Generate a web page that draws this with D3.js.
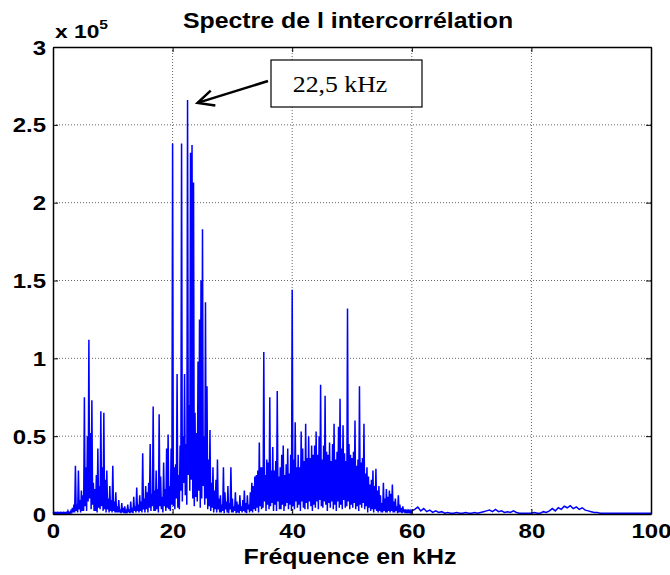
<!DOCTYPE html>
<html><head><meta charset="utf-8">
<script src="https://cdn.jsdelivr.net/npm/d3@7"></script>
<style>body{margin:0;background:#fff}svg{display:block}</style>
</head><body>
<svg id="c" width="670" height="575"></svg>
<script>
// spectrum amplitude in units of 1e4, 0 .. 60 kHz
// local maxima, one every 0.25 kHz (starting at 0)
const peakStart = 0, peakStep = 0.25;
const peakAmp = [
 0.1,0.1,0.1,0.1, 0.1,0.1,0.1,0.1, 0.1,0.1,0.2,0.1, 0.2,0.4,0.6,3.1,
 0.6,2.8,0.9,1.5, 1.2,7.5,3.0,5.0, 11.2,5.2,7.3,2.0, 1.6,2.5,4.2,1.8,
 6.6,3.0,6.5,2.2, 2.8,1.0,1.8,0.9, 3.1,0.8,1.4,0.5, 0.9,0.3,0.7,0.4,
 0.5,0.2,0.6,0.3, 0.8,0.4,1.1,0.5, 1.7,0.6,1.2,0.8, 3.9,1.0,1.8,1.4,
 2.0,4.5,1.3,6.9, 1.5,2.8,1.6,6.4, 2.4,1.1,3.3,1.6, 4.2,5.1,1.8,4.2,
 23.8,3.0,3.2,9.0, 2.5,4.4,23.8,5.0, 9.0,4.5,26.6,7.0, 23.2,23.7,21.3,6.5,
 5.2,9.8,12.5,15.0, 18.3,5.0,13.6,8.2, 3.5,5.4,2.0,3.0, 1.5,2.2,3.5,1.0,
 1.2,0.6,3.0,1.4, 0.8,1.8,0.7,3.0, 1.0,0.5,1.4,0.8, 0.6,1.2,0.5,0.9,
 1.5,0.7,1.2,0.6, 1.4,2.0,1.8,2.4, 2.5,2.8,4.6,3.0, 3.0,10.4,2.5,3.5,
 3.3,7.5,2.8,4.3, 2.8,3.4,7.9,2.4, 3.0,3.8,4.4,2.5, 3.2,4.2,2.6,3.8,
 14.4,3.5,5.9,3.0, 3.8,3.0,5.3,4.2, 3.4,5.8,3.6,5.0, 3.6,4.4,3.8,4.4,
 5.3,3.8,5.0,8.3, 3.5,4.4,7.6,4.0, 3.8,4.6,3.4,4.5, 5.8,3.5,4.0,5.6,
 7.4,4.2,5.7,3.9, 3.4,13.2,4.5,3.8, 3.6,4.0,6.0,3.1, 3.5,8.2,3.3,3.6,
 5.8,2.6,3.0,2.4, 1.9,2.2,2.8,1.8, 2.9,1.5,1.8,1.2, 0.7,2.0,1.0,1.6,
 1.1,1.5,1.3,1.9, 0.8,1.0,0.5,1.2, 0.6,0.4,0.5,0.3, 0.3,0.2,0.3,0.2,
 0.2
];
// local minima between them, one every 0.25 kHz (starting at 0.125)
const troughStart = 0.125, troughStep = 0.25;
const troughAmp = [
 0.05,0.05,0.05,0.05, 0.05,0.05,0.05,0.05, 0.05,0.05,0.05,0.05, 0.1,0.1,0.1,0.2,
 0.1,0.3,0.1,0.2, 0.2,0.5,0.2,0.8, 1.0,0.3,0.6,0.2, 0.2,0.1,0.4,0.3,
 0.5,0.2,0.3,0.1, 0.3,0.1,0.2,0.1, 0.2,0.1,0.1,0.1, 0.1,0.05,0.1,0.05,
 0.05,0.05,0.1,0.05, 0.1,0.05,0.2,0.1, 0.2,0.1,0.2,0.1, 0.3,0.1,0.3,0.1,
 0.4,0.2,0.5,0.2, 0.2,0.3,0.1,0.5, 0.3,0.1,0.5,0.2, 0.4,0.3,0.2,0.6,
 0.5,0.3,1.0,0.4, 0.3,1.5,0.8,2.0, 1.2,0.6,2.5,1.5, 2.2,1.0,0.5,1.1,
 0.8,1.5,0.4,1.0, 1.8,0.6,1.0,0.3, 0.5,0.2,0.4,0.1, 0.3,0.1,0.3,0.1,
 0.1,0.2,0.05,0.3, 0.1,0.05,0.3,0.1, 0.1,0.2,0.05,0.1, 0.05,0.2,0.1,0.2,
 0.1,0.05,0.3,0.1, 0.2,0.1,0.3,0.2, 0.4,0.1,0.5,0.3, 0.4,0.8,0.2,0.6,
 0.3,0.5,0.7,0.2, 0.6,0.2,0.8,0.3, 0.3,0.6,0.2,0.5, 0.7,0.3,0.6,0.2,
 0.5,0.3,0.8,0.4, 0.6,0.2,0.8,0.4, 0.3,0.7,0.3,0.8, 0.5,0.2,0.6,0.4,
 0.8,0.3,0.9,0.5, 0.4,0.8,0.6,0.2, 0.7,0.4,0.8,0.3, 0.6,0.2,0.8,0.4,
 0.6,0.3,0.9,0.4, 0.5,0.8,0.3,0.6, 0.4,0.7,0.3,0.5, 0.2,0.6,0.4,0.7,
 0.3,0.5,0.1,0.4, 0.2,0.3,0.1,0.3, 0.2,0.1,0.2,0.1, 0.1,0.2,0.1,0.1,
 0.2,0.1,0.2,0.1, 0.1,0.2,0.05,0.1, 0.1,0.05,0.1,0.05, 0.05,0.05,0.05,0.05
];
// 60.5 .. 100 kHz, one value every 0.5 kHz (units of 1e4)
const tailStart = 60.5, tailStep = 0.5;
const tailAmp = [
 0.3,0.45,0.2,0.35,0.15,0.25,0.1,0.2,0.1,0.15,
 0.05,0.1,0.05,0.05,0.1,0.05,0.05,0.1,0.05,0.05,
 0.1,0.05,0.1,0.15,0.2,0.25,0.15,0.3,0.15,0.2,
 0.1,0.15,0.1,0.2,0.1,0.05,0.05,0.05,0.05,0.05,
 0.1,0.05,0.05,0.15,0.1,0.2,0.35,0.2,0.4,0.3,
 0.5,0.4,0.53,0.35,0.45,0.3,0.4,0.25,0.2,0.15,
 0.1,0.1,0.05,0.05,0.05,0.05,0.05,0.05,0.05,0.05,
 0.05,0.05,0.05,0.05,0.05,0.05,0.05,0.05,0.05,0.05
];
const xTicks = [0,20,40,60,80,100];
const yTicks = [0,0.5,1,1.5,2,2.5,3];
const titleText = "Spectre de l intercorrélation";
const xLabel = "Fréquence en kHz";
const annotText = "22,5 kHz";
const annotFreq = 22.5, annotValue = 2.66;

const points = [];
peakAmp.forEach((v,i)=>points.push([peakStart + i*peakStep, v/10]));
troughAmp.forEach((v,i)=>points.push([troughStart + i*troughStep, v/10]));
tailAmp.forEach((v,i)=>points.push([tailStart + i*tailStep, v/10]));
points.sort((a,b)=>a[0]-b[0]);

const svg = d3.select("#c");
const L=53, R=651, T=47, B=514;
const x = d3.scaleLinear().domain([0,100]).range([L,R]);
const y = d3.scaleLinear().domain([0,3]).range([B,T]);
const font = "'Liberation Sans', Arial, sans-serif";
function stretch(sel, f){
  sel.each(function(){
    const w = this.getComputedTextLength();
    d3.select(this).attr("textLength", w*f).attr("lengthAdjust","spacingAndGlyphs");
  });
}

// grid
const g = svg.append("g");
g.selectAll(".gx").data(xTicks.slice(1,-1)).enter().append("line")
 .attr("x1",d=>x(d)).attr("x2",d=>x(d)).attr("y1",T).attr("y2",B)
 .attr("stroke","#666").attr("stroke-width",1).attr("stroke-dasharray","1,2");
g.selectAll(".gy").data(yTicks.slice(1,-1)).enter().append("line")
 .attr("y1",d=>y(d)).attr("y2",d=>y(d)).attr("x1",L).attr("x2",R)
 .attr("stroke","#666").attr("stroke-width",1).attr("stroke-dasharray","1,2");

// data line
svg.append("path").datum(points)
 .attr("d", d3.line().x(d=>x(d[0])).y(d=>y(d[1])))
 .attr("fill","none").attr("stroke","#0000ff").attr("stroke-width",1.5)
 .attr("stroke-linejoin","miter");

// axes
const ax = svg.append("g").attr("transform",`translate(0,${B})`)
 .call(d3.axisBottom(x).tickValues(xTicks).tickSizeInner(-5).tickSizeOuter(0).tickPadding(9));
const axT = svg.append("g").attr("transform",`translate(0,${T})`)
 .call(d3.axisTop(x).tickValues(xTicks).tickSizeInner(-5).tickSizeOuter(0).tickFormat(""));
const ay = svg.append("g").attr("transform",`translate(${L},0)`)
 .call(d3.axisLeft(y).tickValues(yTicks).tickSizeInner(-5).tickSizeOuter(0).tickPadding(7).tickFormat(d3.format("")));
const ayR = svg.append("g").attr("transform",`translate(${R},0)`)
 .call(d3.axisRight(y).tickValues(yTicks).tickSizeInner(-5).tickSizeOuter(0).tickFormat(""));
[ax,axT,ay,ayR].forEach(a=>{
  a.select(".domain").attr("stroke","#000").attr("stroke-width",1.5);
  a.selectAll(".tick line").attr("stroke","#000");
  a.selectAll("text").attr("font-family",font).attr("font-weight","bold")
   .attr("font-size",20).attr("fill","#000");
});
ax.selectAll("text").attr("dy","0.75em");
ay.selectAll("text").attr("dy","0.35em");
stretch(ax.selectAll(".tick text"), 1.2);
stretch(ay.selectAll(".tick text"), 1.2);

// exponent
const ex = svg.append("text").attr("x",55).attr("y",38).attr("font-family",font)
 .attr("font-weight","bold").attr("font-size",19).attr("fill","#000");
ex.append("tspan").text("x 10");
ex.append("tspan").attr("dy",-9).attr("font-size",13).text("5");
stretch(ex, 1.2);

// title
const tt = svg.append("text").attr("x",348).attr("y",28).attr("text-anchor","middle")
 .attr("font-family",font).attr("font-weight","bold").attr("font-size",22).text(titleText);
stretch(tt, 1.13);

// x label
const xl = svg.append("text").attr("x",350).attr("y",564).attr("text-anchor","middle")
 .attr("font-family",font).attr("font-weight","bold").attr("font-size",22).text(xLabel);
stretch(xl, 1.13);

// annotation box
svg.append("rect").attr("x",271).attr("y",60).attr("width",151).attr("height",47)
 .attr("fill","#fff").attr("stroke","#000").attr("stroke-width",1.2);
const at = svg.append("text").attr("x",340).attr("y",92).attr("text-anchor","middle")
 .attr("font-family","'Liberation Serif', 'Times New Roman', serif").attr("font-size",23)
 .text(annotText);
stretch(at, 1.12);
// arrow
const ax0 = 268, ay0 = 81;
const tx = x(annotFreq)+10, ty = y(annotValue)+3;
svg.append("line").attr("x1",ax0).attr("y1",ay0).attr("x2",tx).attr("y2",ty)
 .attr("stroke","#000").attr("stroke-width",2.5);
const ang = Math.atan2(ay0-ty, ax0-tx);
const hl = 18, ha = 0.45;
svg.append("path")
 .attr("d",`M${tx+hl*Math.cos(ang-ha)},${ty+hl*Math.sin(ang-ha)} L${tx},${ty} L${tx+hl*Math.cos(ang+ha)},${ty+hl*Math.sin(ang+ha)}`)
 .attr("fill","none").attr("stroke","#000").attr("stroke-width",2.5);
</script>
</body></html>
